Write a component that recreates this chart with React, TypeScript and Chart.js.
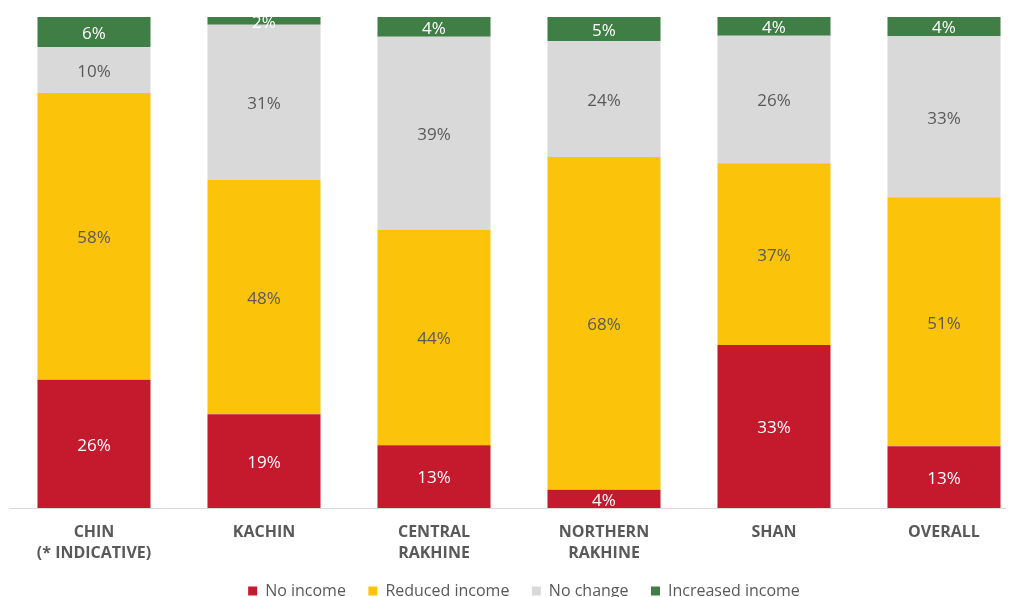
import React, { useEffect, useRef } from "react";
import { Chart, registerables } from "chart.js";

Chart.register(...registerables);

const categories: (string | string[])[] = [
  ["CHIN", "(* INDICATIVE)"],
  "KACHIN",
  ["CENTRAL", "RAKHINE"],
  ["NORTHERN", "RAKHINE"],
  "SHAN",
  "OVERALL",
];

const noIncome = [26.1, 19.1, 12.8, 3.7, 33.2, 12.6];
const reducedIncome = [58.4, 47.7, 43.8, 67.8, 37.0, 50.7];
const noChange = [9.4, 31.6, 39.4, 23.6, 26.0, 32.8];
const increasedIncome = [6.1, 1.6, 4.0, 4.9, 3.8, 3.9];

const noIncomeLabels = ["26%", "19%", "13%", "4%", "33%", "13%"];
const reducedLabels = ["58%", "48%", "44%", "68%", "37%", "51%"];
const noChangeLabels = ["10%", "31%", "39%", "24%", "26%", "33%"];
const increasedLabels = ["6%", "2%", "4%", "5%", "4%", "4%"];

const seriesNames = ["No income", "Reduced income", "No change", "Increased income"];
const seriesColors = ["#C5192D", "#FCC30B", "#D9D9D9", "#3F7E44"];
const labelColors = ["#FFFFFF", "#595959", "#595959", "#FFFFFF"];

const FONT = "'Open Sans', 'Noto Sans', sans-serif";

const barLabelPlugin = {
  id: "barLabels",
  afterDatasetsDraw(chart: any) {
    const ctx = chart.ctx;
    ctx.save();
    ctx.font = `17px ${FONT}`;
    ctx.textAlign = "center";
    ctx.textBaseline = "middle";
    chart.data.datasets.forEach((ds: any, di: number) => {
      const meta = chart.getDatasetMeta(di);
      meta.data.forEach((bar: any, i: number) => {
        const { x, y, base } = bar.getProps(["x", "y", "base"], true);
        ctx.fillStyle = labelColors[di];
        ctx.fillText(ds.valueLabels[i], x, (y + base) / 2 + 2);
      });
    });
    ctx.restore();
  },
};

export default function App() {
  const ref = useRef<HTMLCanvasElement | null>(null);

  useEffect(() => {
    if (!ref.current) return;
    const allLabels = [noIncomeLabels, reducedLabels, noChangeLabels, increasedLabels];
    const allValues = [noIncome, reducedIncome, noChange, increasedIncome];
    const chart = new Chart(ref.current, {
      type: "bar",
      data: {
        labels: categories,
        datasets: allValues.map((vals, i) => ({
          label: seriesNames[i],
          data: vals,
          backgroundColor: seriesColors[i],
          borderWidth: 0,
          barPercentage: 0.665,
          categoryPercentage: 1,
          valueLabels: allLabels[i],
        })) as any,
      },
      options: {
        responsive: false,
        animation: false,
        layout: { padding: { left: 1, right: 36, top: 9, bottom: 0 } },
        plugins: {
          legend: {
            position: "bottom",
            labels: {
              boxWidth: 9,
              boxHeight: 9,
              padding: 10,
              color: "#595959",
              font: { family: FONT, size: 16 },
              generateLabels: (chart: any) => {
                const items = Chart.defaults.plugins.legend.labels.generateLabels(chart);
                return items.map((it: any, i: number) => ({
                  ...it,
                  lineWidth: 0,
                  text: i < items.length - 1 ? it.text + "   " : it.text,
                }));
              },
            },
          },
          tooltip: { enabled: false },
        },
        scales: {
          x: {
            stacked: true,
            grid: { display: false, drawTicks: false },
            border: { display: true, color: "#D9D9D9", width: 1 },
            ticks: {
              color: "#595959",
              padding: 14,
              font: { family: FONT, size: 16, weight: "bold", lineHeight: 1.3125 },
              maxRotation: 0,
              autoSkip: false,
            },
            afterFit: (scale: any) => {
              scale.height = 65;
            },
          },
          y: {
            stacked: true,
            position: "right",
            display: true,
            min: 0,
            max: 100,
            grid: { display: false, drawTicks: false },
            border: { display: false },
            ticks: { display: false },
            afterFit: (scale: any) => {
              scale.width = 10;
            },
          },
        },
      },
      plugins: [barLabelPlugin],
    });
    return () => chart.destroy();
  }, []);

  return (
    <div style={{ width: 1006, height: 589, overflow: "hidden" }}>
      <canvas ref={ref} width={1067} height={601} style={{ display: "block", width: 1067, height: 601 }} />
    </div>
  );
}
